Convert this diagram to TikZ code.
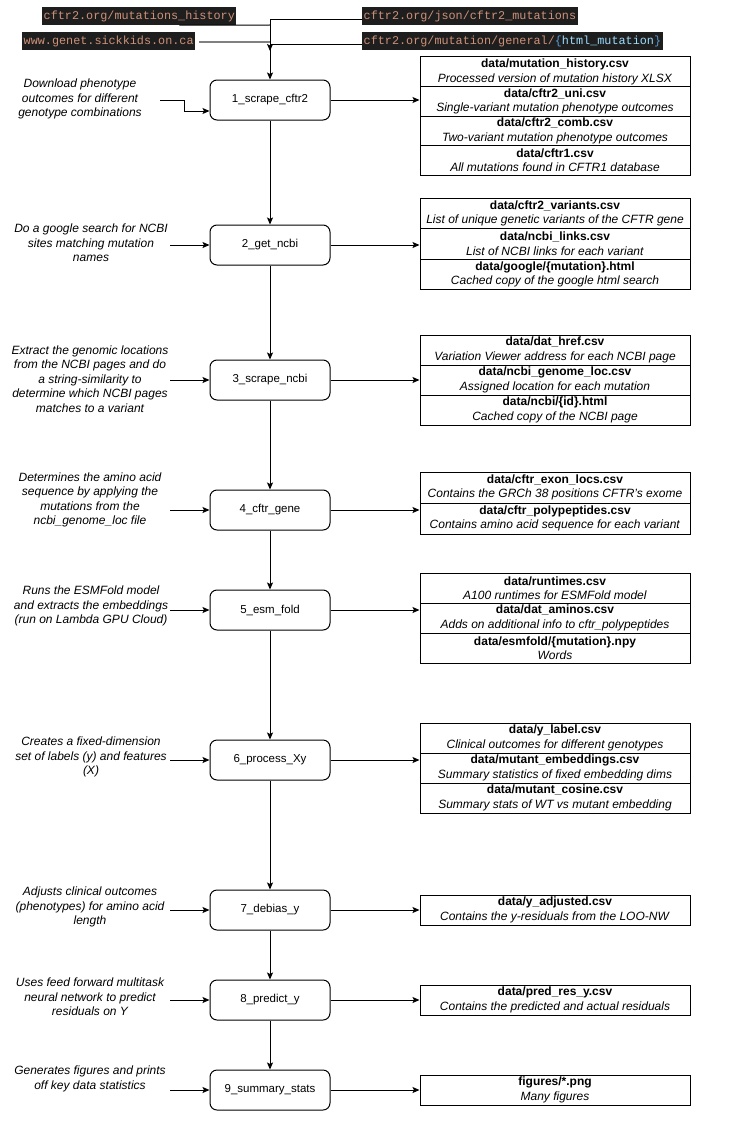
\documentclass[tikz,border=0pt]{standalone}
\usepackage{fontspec}
\setmainfont{Liberation Sans}
\newfontfamily\codefont{Liberation Mono}
\usetikzlibrary{arrows.meta}
\definecolor{codebg}{HTML}{1E1E1E}
\definecolor{codestr}{HTML}{CE9178}
\definecolor{codebrace}{HTML}{569CD6}
\definecolor{codevar}{HTML}{9CDCFE}
\begin{document}
\begin{tikzpicture}[x=1pt,y=-1pt,
  >={Stealth[length=7pt,width=6pt,inset=1.5pt]},
  stepbox/.style={draw, rounded corners=7pt, minimum width=120pt, minimum height=40pt, font=\fontsize{11.5}{13}\selectfont, line width=1pt},
  note/.style={align=center, font=\fontsize{12}{14.5}\selectfont\itshape},
  rowbox/.style={draw, minimum width=270pt, inner sep=0pt, align=center, font=\fontsize{12}{14.5}\selectfont, line width=1pt},
  code/.style={fill=codebg, text=codestr, font=\fontsize{11.8}{13}\selectfont\codefont, inner xsep=1.5pt, inner ysep=0pt, minimum height=18pt, anchor=west},
  conn/.style={->, line width=1pt},
  plain/.style={line width=1pt},
  grayline/.style={line width=1.8pt, draw=black!50}]
\useasboundingbox (0,0) rectangle (751,1124);

% top code labels
\node[code] (c1) at (42,16) {cftr2.org/mutations\_history};
\node[code] (c2) at (22,41) {www.genet.sickkids.on.ca};
\node[code] (c3) at (362,16) {cftr2.org/json/cftr2\_mutations};
\node[code] (c4) at (362,41) {cftr2.org/mutation/general/\textcolor{codebrace}{\{}\textcolor{codevar}{html\_mutation}\textcolor{codebrace}{\}}};

% step boxes
\node[stepbox] (s1) at (270,100) {1\_scrape\_cftr2};
\node[stepbox] (s2) at (270,245) {2\_get\_ncbi};
\node[stepbox] (s3) at (270,380) {3\_scrape\_ncbi};
\node[stepbox] (s4) at (270,510) {4\_cftr\_gene};
\node[stepbox] (s5) at (270,610) {5\_esm\_fold};
\node[stepbox] (s6) at (270,760) {6\_process\_Xy};
\node[stepbox] (s7) at (270,910) {7\_debias\_y};
\node[stepbox] (s8) at (270,1000) {8\_predict\_y};
\node[stepbox] (s9) at (270,1090) {9\_summary\_stats};

% notes
\node[note] (n1) at (80,99) {Download phenotype\\outcomes for different\\genotype combinations};
\node[note] (n2) at (91,243) {Do a google search for NCBI\\sites matching mutation\\names};
\node[note] (n3) at (90,379) {Extract the genomic locations\\from the NCBI pages and do\\a string-similarity to\\determine which NCBI pages\\matches to a variant};
\node[note] (n4) at (90,500) {Determines the amino acid\\sequence by applying the\\mutations from the\\ncbi\_genome\_loc file};
\node[note] (n5) at (91,606) {Runs the ESMFold model\\and extracts the embeddings\\(run on Lambda GPU Cloud)};
\node[note] (n6) at (91,757) {Creates a fixed-dimension\\set of labels (y) and features\\(X)};
\node[note] (n7) at (90,907) {Adjusts clinical outcomes\\(phenotypes) for amino acid\\length};
\node[note] (n8) at (90,997) {Uses feed forward multitask\\neural network to predict\\residuals on Y};
\node[note] (n9) at (90,1079) {Generates figures and prints\\off key data statistics};

% output groups
\node[rowbox, minimum height=29.5pt] (g1a) at (555,71.75) {\textbf{data/mutation\_history.csv}\\\textit{Processed version of mutation history XLSX}};
\node[rowbox, minimum height=29.5pt] (g1b) at (555,101.25) {\textbf{data/cftr2\_uni.csv}\\\textit{Single-variant mutation phenotype outcomes}};
\node[rowbox, minimum height=29.5pt] (g1c) at (555,130.75) {\textbf{data/cftr2\_comb.csv}\\\textit{Two-variant mutation phenotype outcomes}};
\node[rowbox, minimum height=29.5pt] (g1d) at (555,160.25) {\textbf{data/cftr1.csv}\\\textit{All mutations found in CFTR1 database}};

\node[rowbox, minimum height=30.5pt] (g2a) at (555,213.25) {\textbf{data/cftr2\_variants.csv}\\\textit{List of unique genetic variants of the CFTR gene}};
\node[rowbox, minimum height=30.5pt] (g2b) at (555,243.75) {\textbf{data/ncbi\_links.csv}\\\textit{List of NCBI links for each variant}};
\node[rowbox, minimum height=30.5pt] (g2c) at (555,274.25) {\textbf{data/google/\{mutation\}.html}\\\textit{Cached copy of the google html search}};

\node[rowbox, minimum height=30pt] (g3a) at (555,350) {\textbf{data/dat\_href.csv}\\\textit{Variation Viewer address for each NCBI page}};
\node[rowbox, minimum height=30pt] (g3b) at (555,380) {\textbf{data/ncbi\_genome\_loc.csv}\\\textit{Assigned location for each mutation}};
\node[rowbox, minimum height=30pt] (g3c) at (555,410) {\textbf{data/ncbi/\{id\}.html}\\\textit{Cached copy of the NCBI page}};

\node[rowbox, minimum height=31pt] (g4a) at (555,487.5) {\textbf{data/cftr\_exon\_locs.csv}\\\textit{Contains the GRCh 38 positions CFTR's exome}};
\node[rowbox, minimum height=31pt] (g4b) at (555,518.5) {\textbf{data/cftr\_polypeptides.csv}\\\textit{Contains amino acid sequence for each variant}};

\node[rowbox, minimum height=30pt] (g5a) at (555,588) {\textbf{data/runtimes.csv}\\\textit{A100 runtimes for ESMFold model}};
\node[rowbox, minimum height=30pt] (g5b) at (555,618) {\textbf{data/dat\_aminos.csv}\\\textit{Adds on additional info to cftr\_polypeptides}};
\node[rowbox, minimum height=30pt] (g5c) at (555,648) {\textbf{data/esmfold/\{mutation\}.npy}\\\textit{Words}};

\node[rowbox, minimum height=30pt] (g6a) at (555,738) {\textbf{data/y\_label.csv}\\\textit{Clinical outcomes for different genotypes}};
\node[rowbox, minimum height=30pt] (g6b) at (555,768) {\textbf{data/mutant\_embeddings.csv}\\\textit{Summary statistics of fixed embedding dims}};
\node[rowbox, minimum height=30pt] (g6c) at (555,798) {\textbf{data/mutant\_cosine.csv}\\\textit{Summary stats of WT vs mutant embedding}};

\node[rowbox, minimum height=30pt] (g7) at (555,910) {\textbf{data/y\_adjusted.csv}\\\textit{Contains the y-residuals from the LOO-NW}};
\node[rowbox, minimum height=30pt] (g8) at (555,1000) {\textbf{data/pred\_res\_y.csv}\\\textit{Contains the predicted and actual residuals}};
\node[rowbox, minimum height=30pt] (g9) at (555,1090) {\textbf{figures/*.png}\\\textit{Many figures}};

% top connectors
\coordinate (j3) at (270,20);
\coordinate (j1) at (270,25);
\coordinate (j2) at (270,42);
\coordinate (j4) at (270,45);
\coordinate (j4e) at (270,51);
\draw[plain] ([yshift=-4pt]c3.west) -- (j3);
\draw[plain] ([xshift=40pt]c1.south) -- (j1);
\draw[grayline] ([xshift=4pt,yshift=-1pt]c2.east) -- (j2);
\draw[conn] ([yshift=-4pt]c4.west) -- (j4) -- (j4e);
\draw[conn] (j3) -- (s1);

% notes to steps
\coordinate (e1) at (160,100);
\coordinate (e1b) at (184,100);
\draw[conn] (e1) -- (e1b) |- ([yshift=-11pt]s1.west);
\foreach \i/\y in {2/245,3/380,4/510,5/610,6/760,7/910,8/1000,9/1090}{
  \coordinate (e\i) at (170,\y);
  \draw[conn] (e\i) -- (s\i);
}

% step chain
\draw[conn] (s1) -- (s2);
\draw[conn] (s2) -- (s3);
\draw[conn] (s3) -- (s4);
\draw[conn] (s4) -- (s5);
\draw[conn] (s5) -- (s6);
\draw[conn] (s6) -- (s7);
\draw[conn] (s7) -- (s8);
\draw[conn] (s8) -- (s9);

% steps to outputs
\draw[conn] (s1) -- (s1 -| g1b.west);
\draw[conn] (s2) -- (s2 -| g2b.west);
\draw[conn] (s3) -- (s3 -| g3b.west);
\draw[conn] (s4) -- (s4 -| g4b.west);
\draw[conn] (s5) -- (s5 -| g5b.west);
\draw[conn] (s6) -- (s6 -| g6b.west);
\draw[conn] (s7) -- (g7);
\draw[conn] (s8) -- (g8);
\draw[conn] (s9) -- (g9);
\end{tikzpicture}
\end{document}
